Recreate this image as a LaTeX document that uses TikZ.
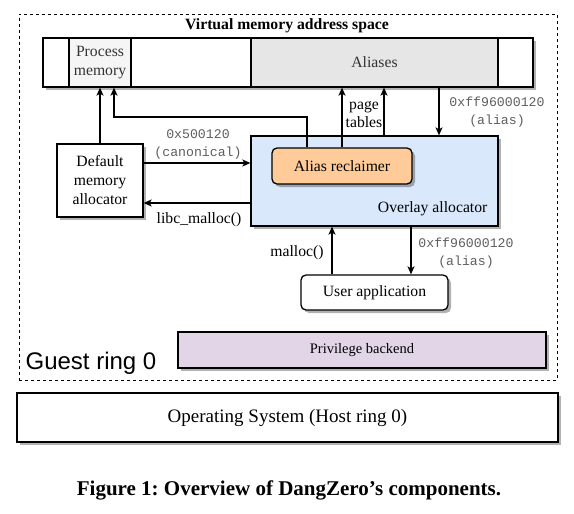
\documentclass[tikz,border=0pt]{standalone}
\usepackage{fontspec}
\setmainfont{Liberation Serif}
\setsansfont{Liberation Sans}
\setmonofont{Liberation Mono}
\usetikzlibrary{arrows.meta,shadows}

\definecolor{procfill}{HTML}{F5F5F5}
\definecolor{aliasfill}{HTML}{E6E6E6}
\definecolor{overlayfill}{HTML}{DAE8FC}
\definecolor{reclfill}{HTML}{FFCC99}
\definecolor{backfill}{HTML}{E1D5E7}
\definecolor{hexgray}{HTML}{5E5E5E}
\definecolor{celltext}{HTML}{333333}

\newcommand\figtext{\fontsize{15.7}{19}\selectfont}
\newcommand\hextext{\ttfamily\fontsize{13.2}{18}\selectfont\color{hexgray}}

\tikzset{
  box/.style={draw, line width=1.3pt, inner sep=0pt, align=center, font=\figtext,
    drop shadow={shadow xshift=3pt, shadow yshift=-3pt, opacity=.3, fill=black}},
  cell/.style={draw, line width=1.3pt, inner sep=0pt, align=center, font=\figtext,
    minimum height=49pt},
  hexlabel/.style={align=center, font=\hextext, inner sep=0pt},
  plainlabel/.style={align=center, font=\figtext, inner sep=0pt},
}

\begin{document}
\begin{tikzpicture}[x=1pt,y=-1pt,line width=1.2pt,
    >={Stealth[length=8pt,width=7pt,inset=2pt]}]
  \useasboundingbox (0,0) rectangle (574,514);

  % guest ring
  \node[draw, line width=0.9pt, dash pattern=on 3pt off 3pt, inner sep=0pt,
    minimum width=538pt, minimum height=366pt] (guest) at (288,197) {};
  \node[font=\bfseries\figtext] (vmtitle) at (287,26) {Virtual memory address space};

  % address space bar
  \node[box, fill=white, minimum width=490pt, minimum height=49pt] (bar) at (288,62.5) {};
  \node[cell, fill=procfill, text=celltext, minimum width=62pt] (procmem) at (100,62.5) {Process\\memory};
  \node[cell, fill=aliasfill, text=celltext, minimum width=247pt] (aliases) at (374.5,62.5) {Aliases};

  % allocators
  \node[box, fill=white, minimum width=86pt, minimum height=73pt] (defalloc) at (100,180.5)
    {Default\\memory\\allocator};
  \node[box, fill=overlayfill, minimum width=247pt, minimum height=90pt] (overlay) at (374.5,181) {};
  \node[plainlabel, anchor=east] (overlaytxt) at (488,209) {Overlay allocator};
  \node[box, fill=reclfill, rounded corners=5pt, minimum width=140pt, minimum height=36pt]
    (reclaimer) at (342,166) {Alias reclaimer};
  \node[box, fill=white, rounded corners=5pt, minimum width=147pt, minimum height=35pt]
    (userapp) at (374.5,292.5) {User application};

  \node[box, fill=backfill, minimum width=368pt, minimum height=36pt,
    font=\fontsize{14.5}{17}\selectfont] (backend) at (362,350) {Privilege backend};
  \node[anchor=west, inner sep=0pt, font=\sffamily\fontsize{24}{28}\selectfont]
    (guesttxt) at (25,363) {Guest ring 0};

  \node[box, fill=white, minimum width=541pt, minimum height=49pt,
    font=\fontsize{19}{23}\selectfont] (os) at (287.5,417.5) {Operating System (Host ring 0)};

  \node[font=\bfseries\fontsize{21}{25}\selectfont] (caption) at (289,490)
    {\frenchspacing Figure 1: Overview of DangZero’s components.};

  % connectors
  \coordinate (turn) at (307,117);
  \coordinate (canon) at ([yshift=17.5pt]defalloc.east);
  \coordinate (libc) at ([yshift=-22.5pt]defalloc.east);
  \coordinate (pgtop) at ([xshift=9.5pt]overlay.north);
  \coordinate (aldown) at ([xshift=64.5pt]overlay.north);
  \coordinate (mallocup) at ([xshift=-42.5pt]userapp.north);
  \coordinate (aldown2) at ([xshift=36.5pt]userapp.north);

  \draw[->] (defalloc.north) -- (defalloc.north |- procmem.south);
  \draw[->] ([xshift=-35pt]reclaimer.north) -- (turn) -| ([xshift=14pt]procmem.south);
  \draw[->] (reclaimer.north) -- (reclaimer.north |- aliases.south);
  \draw[->] (pgtop) -- (pgtop |- aliases.south);
  \draw[->] (aldown |- aliases.south) -- (aldown);
  \draw[->] (canon) -- (canon -| overlay.west);
  \draw[->] (libc -| overlay.west) -- (libc);
  \draw[->] (mallocup) -- (mallocup |- overlay.south);
  \draw[->] (aldown2 |- overlay.south) -- (aldown2);

  % labels
  \node[plainlabel, font=\fontsize{15.7}{18}\selectfont] (pgtables) at (364,115) {page\\tables};
  \node[hexlabel] (hexalias) at (497,112) {0xff96000120\\(alias)};
  \node[hexlabel] (hexcanon) at (198,144.5) {0x500120\\(canonical)};
  \node[plainlabel] (libctxt) at (199,220) {libc\_malloc()};
  \node[plainlabel] (malloctxt) at (297,253) {malloc()};
  \node[hexlabel] (hexalias2) at (466,253) {0xff96000120\\(alias)};
\end{tikzpicture}
\end{document}
